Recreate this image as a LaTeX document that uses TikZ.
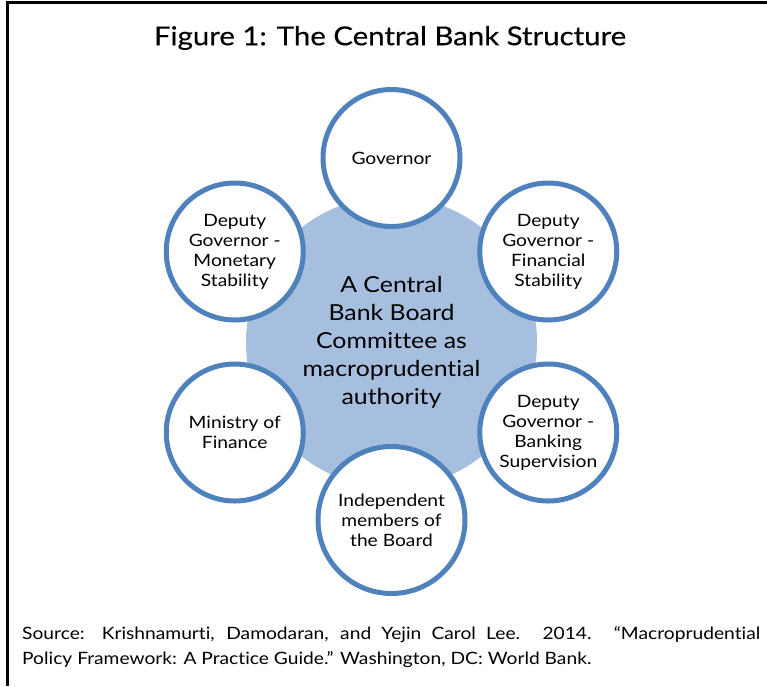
\documentclass[tikz,border=0pt]{standalone}
\usepackage{fontspec}
\setmainfont{Lato}[FakeStretch=1.13, Ligatures=NoCommon]
\usetikzlibrary{positioning}
\definecolor{ringblue}{HTML}{4F81BD}
\definecolor{hubblue}{HTML}{A7BFDE}
\tikzset{
    hub/.style={circle, fill=hubblue, minimum size=291pt, inner sep=0pt, align=center, font=\fontsize{22}{28}\selectfont},
    member/.style={circle, draw=ringblue, line width=5pt, fill=white, minimum size=137pt, inner sep=0pt, align=center, font=\fontsize{17}{20}\selectfont},
    heading/.style={font=\fontsize{26}{30}\selectfont\addfontfeatures{FakeBold=0.4}, inner sep=0pt},
    source/.style={anchor=north west, inner sep=0pt, text width=738pt, align=justify, font=\fontsize{17}{25}\selectfont}
}

\begin{document}
\begin{tikzpicture}[x=1pt, y=1pt]
    \useasboundingbox (0,0) rectangle (767,-686);
    % Frame
    \draw [line width=2.5pt] (7.5,-686) -- (7.5,-2.5) -- (767,-2.5);

    % Title
    \node (title) [heading] at (390,-38) {Figure 1: The Central Bank Structure};

    % Hub
    \node (hub) [hub] at (391.5,-342) {A Central\\Bank Board\\Committee as\\macroprudential\\authority};

    % Members around the hub
    \node (gov) [member] at ([shift={(90:184)}]hub.center) {Governor};
    \node (fin) [member] at ([shift={(30:181)}]hub.center) {Deputy\\Governor -\\Financial\\Stability};
    \node (bank) [member] at ([shift={(-30:181)}]hub.center) {Deputy\\Governor -\\Banking\\Supervision};
    \node (indep) [member, minimum size=147pt] at ([shift={(-90:178)}]hub.center) {Independent\\members of\\the Board};
    \node (mof) [member] at ([shift={(210:181)}]hub.center) {Ministry of\\Finance};
    \node (mon) [member] at ([shift={(150:181)}]hub.center) {Deputy\\Governor -\\Monetary\\Stability};

    % Source
    \node (src) [source] at (22,-626) {Source: Krishnamurti, Damodaran, and Yejin Carol Lee. 2014. “Macroprudential\linebreak Policy Framework: A Practice Guide.” Washington, DC: World Bank.};
\end{tikzpicture}
\end{document}
